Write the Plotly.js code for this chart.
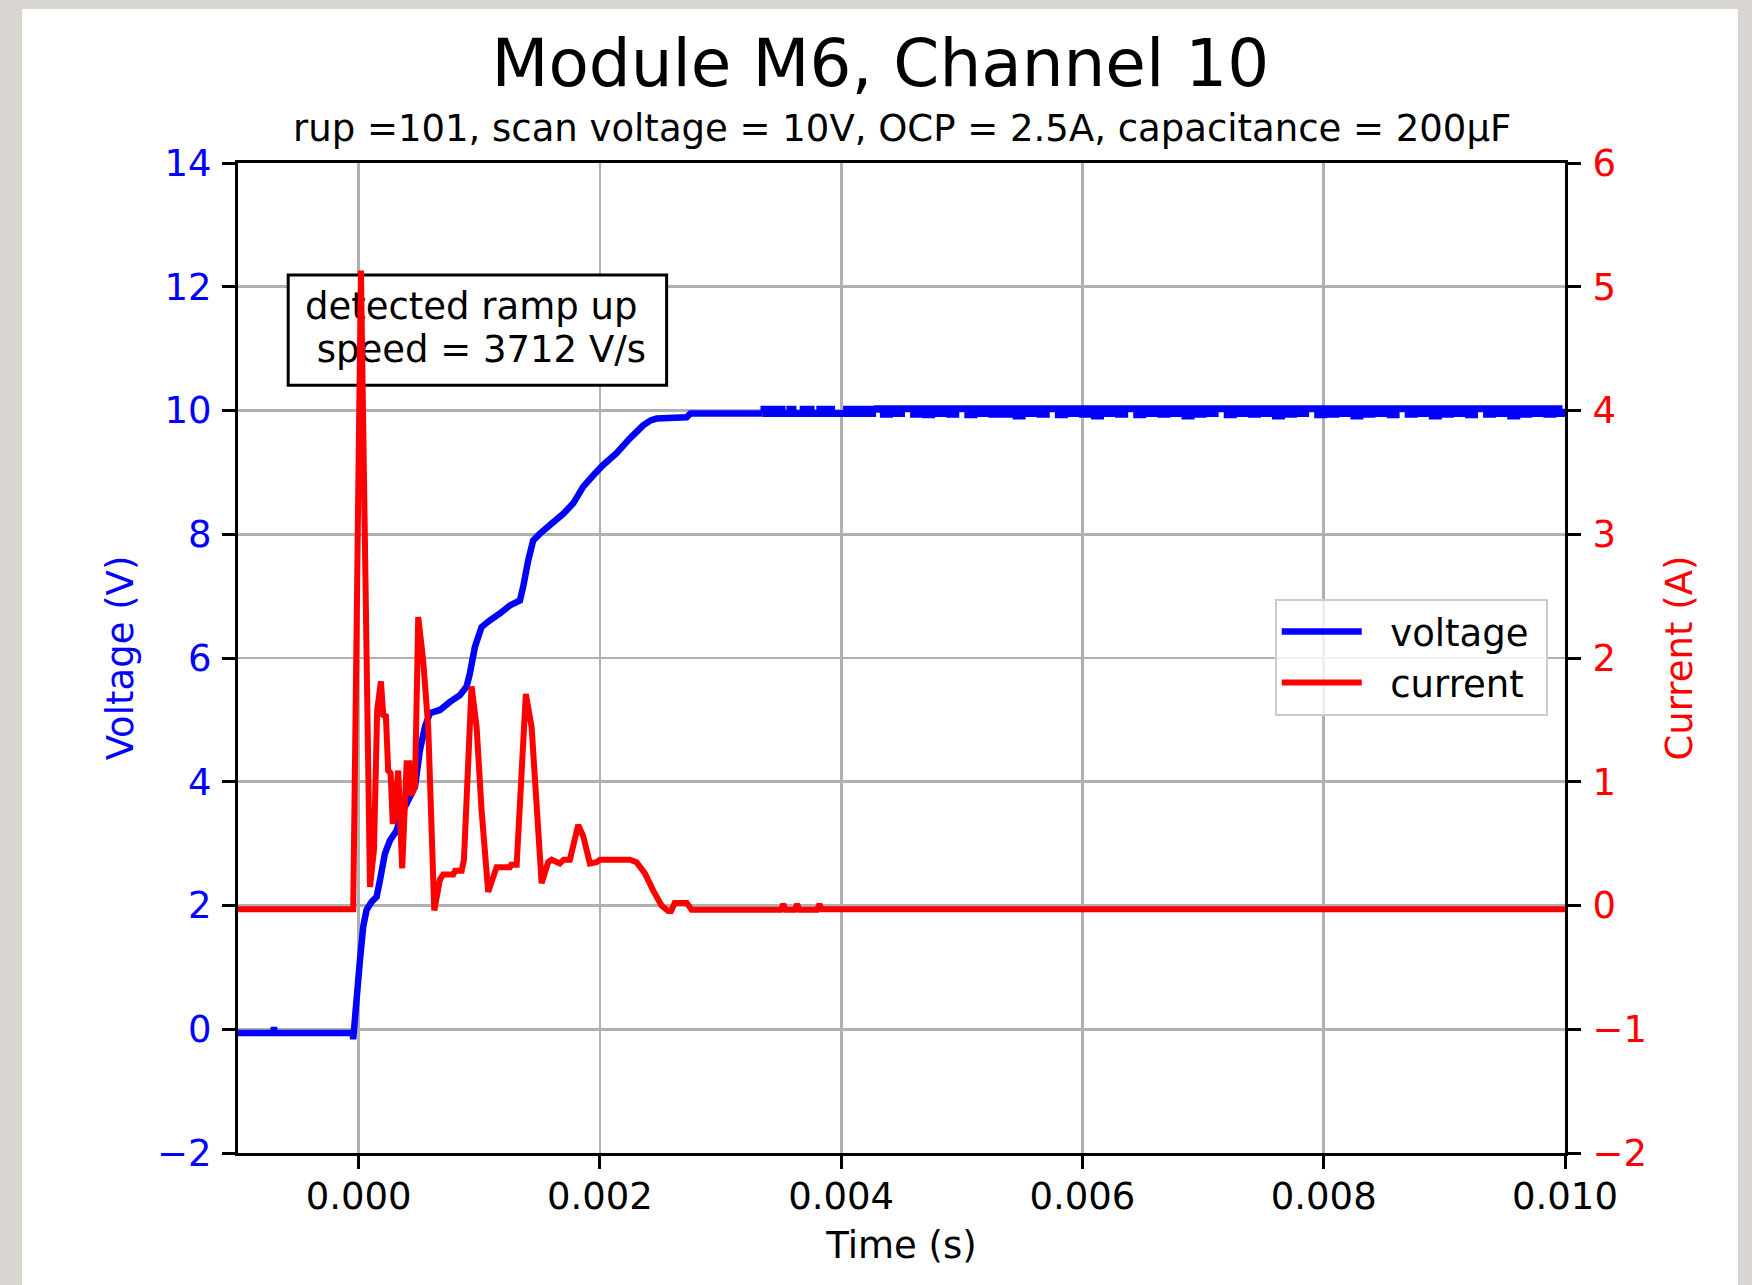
<!DOCTYPE html>
<html>
<head>
<meta charset="utf-8">
<script src="https://cdn.plot.ly/plotly-3.0.1.min.js"></script>
<style>
  html, body { margin: 0; padding: 0; background: #d9d5d1; }
  #chart { width: 1752px; height: 1285px; }
</style>
</head>
<body>
<div id="chart"></div>
<script>
// ---- Voltage: idle level, ramp after trigger, settle near 10 V ----
const voltTime = [
  -0.00100, -0.000710, -0.000702, -0.000694, -0.000050, -0.000045, -0.000003,
  0.000011, 0.000038, 0.000066, 0.000108, 0.000149, 0.000177, 0.000218, 0.000259,
  0.000315, 0.000356, 0.000398, 0.000439, 0.000467, 0.000508, 0.000550, 0.000591,
  0.000674, 0.000757, 0.000840, 0.000895, 0.000922, 0.000964, 0.001019, 0.001088,
  0.001171, 0.001254, 0.001337, 0.001364, 0.001406, 0.001447, 0.001503, 0.001586,
  0.001696, 0.001779, 0.001862, 0.001944, 0.002027, 0.002138, 0.002249, 0.002359,
  0.002420, 0.002470, 0.002718, 0.002750, 0.002773, 0.003350
];
const voltValue = [
  -0.06, -0.06, 0.03, -0.06, -0.06, -0.16, 0.80,
  1.12, 1.66, 1.93, 2.06, 2.14, 2.41, 2.84, 3.05,
  3.21, 3.49, 3.65, 3.81, 3.92, 4.51, 4.89, 5.11,
  5.16, 5.29, 5.40, 5.54, 5.75, 6.18, 6.50, 6.61,
  6.72, 6.85, 6.93, 7.15, 7.58, 7.90, 8.01, 8.15,
  8.33, 8.50, 8.77, 8.95, 9.12, 9.31, 9.55, 9.76,
  9.84, 9.87, 9.89, 9.95, 9.95, 9.95
];

// ---- Voltage ripple on the 10 V plateau (sample-and-hold steps) ----
const plateauTime = [
  0.003350, 0.003360, 0.003390, 0.003420, 0.003450, 0.003470, 0.003490, 0.003510,
  0.003575, 0.003600, 0.003685, 0.003705, 0.003726, 0.003750, 0.003823, 0.003850,
  0.003892, 0.003920, 0.004045, 0.004080, 0.004120, 0.004160, 0.004196, 0.004230,
  0.004260,
  0.00430, 0.00435, 0.00440, 0.00445, 0.00450, 0.00455, 0.00460, 0.00465, 0.00470, 0.00475,
  0.00480, 0.00485, 0.00490, 0.00495, 0.00500, 0.00505, 0.00510, 0.00515, 0.00520, 0.00525,
  0.00530, 0.00535, 0.00540, 0.00545, 0.00550, 0.00555, 0.00560, 0.00565, 0.00570, 0.00575,
  0.00580, 0.00585, 0.00590, 0.00595, 0.00600, 0.00605, 0.00610, 0.00615, 0.00620, 0.00625,
  0.00630, 0.00635, 0.00640, 0.00645, 0.00650, 0.00655, 0.00660, 0.00665, 0.00670, 0.00675,
  0.00680, 0.00685, 0.00690, 0.00695, 0.00700, 0.00705, 0.00710, 0.00715, 0.00720, 0.00725,
  0.00730, 0.00735, 0.00740, 0.00745, 0.00750, 0.00755, 0.00760, 0.00765, 0.00770, 0.00775,
  0.00780, 0.00785, 0.00790, 0.00795, 0.00800, 0.00805, 0.00810, 0.00815, 0.00820, 0.00825,
  0.00830, 0.00835, 0.00840, 0.00845, 0.00850, 0.00855, 0.00860, 0.00865, 0.00870, 0.00875,
  0.00880, 0.00885, 0.00890, 0.00895, 0.00900, 0.00905, 0.00910, 0.00915, 0.00920, 0.00925,
  0.00930, 0.00935, 0.00940, 0.00945, 0.00950, 0.00955, 0.00960, 0.00965, 0.00970, 0.00975,
  0.00980, 0.00985, 0.00990, 0.00995, 0.01000
];
const plateauVolt = [
  9.95, 10.02, 9.95, 10.02, 10.02, 9.95, 10.02, 9.95,
  10.02, 9.95, 10.02, 9.95, 10.02, 9.95, 10.02, 9.95,
  10.02, 9.95, 10.02, 9.95, 10.02, 9.95, 10.02, 9.95,
  10.02,
  10.03, 9.94, 10.03, 9.95, 10.03, 10.03, 9.94, 10.03, 9.93, 10.03,
  9.95, 10.03, 9.94, 10.03, 10.03, 9.93, 10.03, 9.95, 10.03, 9.94,
  10.03, 9.94, 10.03, 9.91, 10.03, 9.95, 10.03, 9.94, 10.03, 10.03,
  9.93, 10.03, 9.95, 10.03, 9.94, 10.03, 9.91, 10.03, 9.95, 10.03,
  9.94, 10.03, 10.03, 9.93, 10.03, 9.95, 10.03, 9.94, 10.03, 9.95,
  10.03, 9.91, 10.03, 9.94, 10.03, 9.95, 10.03, 10.03, 9.93, 10.03,
  9.95, 10.03, 9.94, 10.03, 9.95, 10.03, 9.91, 10.03, 9.94, 10.03,
  9.95, 10.03, 10.03, 9.93, 10.03, 9.94, 10.03, 9.95, 10.03, 9.91,
  10.03, 9.94, 10.03, 9.95, 10.03, 9.93, 10.03, 10.03, 9.94, 10.03,
  9.95, 10.03, 9.91, 10.03, 9.94, 10.03, 9.95, 10.03, 9.93, 10.03,
  10.03, 9.94, 10.03, 9.95, 10.03, 9.91, 10.03, 9.94, 10.03, 9.95,
  10.03, 9.94, 10.03, 9.95, 10.03
];

// ---- Current: inrush spike, charging pulses, back to idle ----
const currTime = [
  -0.00100, -0.000045, 0.000019, 0.000094, 0.000127, 0.000154, 0.000185, 0.000204,
  0.000226, 0.000245, 0.000265, 0.000282, 0.000290, 0.000328, 0.000361, 0.000398,
  0.000420, 0.000433, 0.000467, 0.000494, 0.000535, 0.000577, 0.000627, 0.000674,
  0.000701, 0.000784, 0.000800, 0.000854, 0.000873, 0.000936, 0.000978, 0.001019,
  0.001074, 0.001144, 0.001254, 0.001265, 0.001310, 0.001386, 0.001434, 0.001517,
  0.001571, 0.001600, 0.001668, 0.001700, 0.001751, 0.001820, 0.001862, 0.001917,
  0.001973, 0.002000, 0.002249, 0.002304, 0.002373, 0.002442, 0.002511, 0.002566,
  0.002590, 0.002620, 0.002720, 0.002760, 0.003500, 0.003520, 0.003540, 0.003615,
  0.003635, 0.003655, 0.003800, 0.003820, 0.003840, 0.010000
];
const currValue = [
  -0.03, -0.03, 5.13, 0.15, 0.45, 1.58, 1.81, 1.54,
  1.53, 1.09, 1.07, 0.68, 0.68, 1.09, 0.30, 1.15,
  1.15, 0.89, 0.96, 2.33, 1.98, 1.44, -0.04, 0.21,
  0.25, 0.25, 0.28, 0.28, 0.37, 1.77, 1.44, 0.77,
  0.11, 0.31, 0.31, 0.33, 0.33, 1.71, 1.44, 0.18,
  0.35, 0.37, 0.34, 0.37, 0.37, 0.65, 0.56, 0.34,
  0.35, 0.37, 0.37, 0.35, 0.26, 0.12, 0.00, -0.045,
  -0.045, 0.02, 0.02, -0.035, -0.035, 0.01, -0.035, -0.035,
  0.01, -0.035, -0.035, 0.01, -0.03, -0.03
];

// ---- Text ----
const chartTitle = 'Module M6, Channel 10';
const chartSubtitle = 'rup =101, scan voltage = 10V, OCP = 2.5A, capacitance = 200µF';
const speedNoteLines = ['detected ramp up', '\u00a0speed = 3712 V/s'];
const xTickValues = [0, 0.002, 0.004, 0.006, 0.008, 0.010];

const FONT = 'DejaVu Sans, sans-serif';
const FS = 37;

// note box placement (time / voltage units of the left axis)
const noteBox = { x0: -0.000584, x1: 0.002553, y0: 10.41, y1: 12.19 };
const noteTextX = -0.000445;
const noteTextY = [11.624, 10.938];

const traces = [
  {
    name: '\u00a0\u00a0voltage\u00a0',
    legendgroup: 'v',
    x: voltTime,
    y: voltValue,
    xaxis: 'x', yaxis: 'y',
    type: 'scatter', mode: 'lines',
    line: { color: '#0000ff', width: 6.5, simplify: false },
    hoverinfo: 'skip'
  },
  {
    name: 'voltage plateau',
    legendgroup: 'v', showlegend: false,
    x: plateauTime,
    y: plateauVolt,
    xaxis: 'x', yaxis: 'y',
    type: 'scatter', mode: 'lines',
    line: { color: '#0000ff', width: 7, shape: 'hv', simplify: false },
    hoverinfo: 'skip'
  },
  {
    // note text sits on the voltage axes so the current trace is drawn over it
    name: 'note', showlegend: false,
    x: [noteTextX, noteTextX],
    y: noteTextY,
    text: speedNoteLines,
    xaxis: 'x', yaxis: 'y',
    type: 'scatter', mode: 'text',
    textposition: 'middle right',
    textfont: { family: FONT, size: FS, color: '#000000' },
    cliponaxis: false,
    hoverinfo: 'skip'
  },
  {
    name: '\u00a0\u00a0current\u00a0',
    x: currTime,
    y: currValue,
    xaxis: 'x', yaxis: 'y2',
    type: 'scatter', mode: 'lines',
    line: { color: '#ff0000', width: 6, simplify: false },
    hoverinfo: 'skip'
  }
];

const axisCommon = {
  showline: true, linecolor: '#000000', linewidth: 3,
  ticks: 'outside', ticklen: 13, tickwidth: 3, tickcolor: '#000000',
  zeroline: false, automargin: false
};

const layout = {
  width: 1752, height: 1285,
  paper_bgcolor: '#d9d5d1',
  plot_bgcolor: '#ffffff',
  font: { family: FONT, size: FS, color: '#000000' },
  margin: { l: 238, r: 187, t: 163, b: 132, pad: 0 },
  title: {
    text: chartTitle,
    font: { family: FONT, size: 66, color: '#000000' },
    xref: 'container', x: 0.5025, xanchor: 'center',
    yref: 'container', y: 1 - 63 / 1285, yanchor: 'middle'
  },
  showlegend: true,
  legend: {
    x: 0.987, xanchor: 'right', y: 0.5006, yanchor: 'middle',
    bgcolor: 'rgba(255,255,255,0.8)', bordercolor: '#cccccc', borderwidth: 2,
    font: { family: FONT, size: FS, color: '#000000' },
    itemwidth: 80, tracegroupgap: 0
  },
  xaxis: Object.assign({}, axisCommon, {
    range: [-0.001, 0.010],
    tickvals: xTickValues, tickformat: '.3f',
    mirror: true,
    showgrid: true, gridcolor: '#b0b0b0', gridwidth: 2.8,
    tickfont: { family: FONT, size: FS, color: '#000000' },
    ticklabelstandoff: -4,
    title: { text: 'Time (s)', font: { family: FONT, size: FS, color: '#000000' }, standoff: 15 }
  }),
  yaxis: Object.assign({}, axisCommon, {
    range: [-2, 14], dtick: 2, tick0: 0,
    showgrid: true, gridcolor: '#b0b0b0', gridwidth: 2.8,
    tickfont: { family: FONT, size: FS, color: '#0000ff' },
    ticklabelstandoff: 3,
    title: { text: 'Voltage (V)', font: { family: FONT, size: FS, color: '#0000ff' }, standoff: 13 }
  }),
  yaxis2: Object.assign({}, axisCommon, {
    range: [-2, 6], dtick: 1, tick0: 0,
    overlaying: 'y', side: 'right',
    showgrid: false,
    tickfont: { family: FONT, size: FS, color: '#ff0000' },
    ticklabelstandoff: 4,
    title: { text: 'Current (A)', font: { family: FONT, size: FS, color: '#ff0000' }, standoff: 21 }
  }),
  shapes: [
    // white figure panel inside the grey frame
    {
      type: 'rect', xref: 'paper', yref: 'paper', layer: 'below',
      x0: (22 - 238) / 1327, x1: (1738 - 238) / 1327,
      y0: -0.2, y1: (1153 - 9) / 990,
      line: { width: 0 }, fillcolor: '#ffffff'
    },
    // frame of the ramp-speed note
    {
      type: 'rect', xref: 'x', yref: 'y', layer: 'between',
      x0: noteBox.x0, x1: noteBox.x1, y0: noteBox.y0, y1: noteBox.y1,
      line: { color: '#000000', width: 3 }, fillcolor: '#ffffff'
    }
  ],
  annotations: [
    {
      text: chartSubtitle, showarrow: false,
      xref: 'paper', yref: 'paper', x: 0.5, y: (1153 - 128) / 990,
      xanchor: 'center', yanchor: 'middle',
      font: { family: FONT, size: FS, color: '#000000' }
    }
  ]
};

Plotly.newPlot('chart', traces, layout, { staticPlot: true, displayModeBar: false });
</script>
</body>
</html>
